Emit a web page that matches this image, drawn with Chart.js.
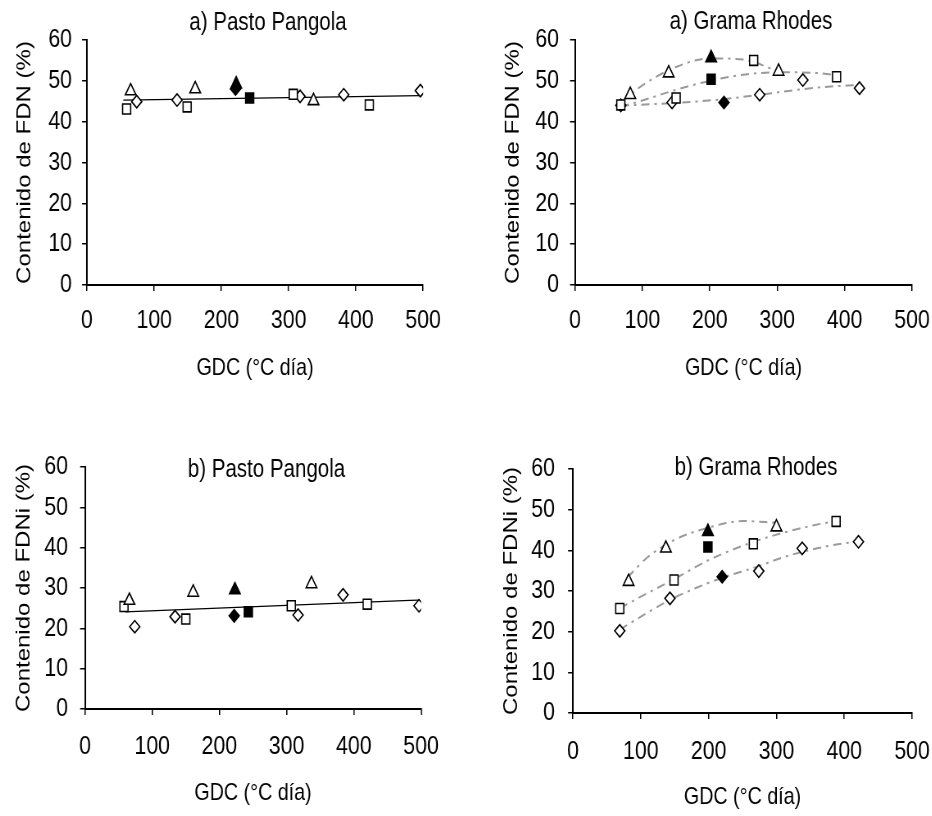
<!DOCTYPE html>
<html>
<head>
<meta charset="utf-8">
<script src="https://cdn.jsdelivr.net/npm/chart.js@4.4.0/dist/chart.umd.min.js"></script>
<style>
    body { margin: 0; background: #fff; width: 932px; height: 816px; position: relative; overflow: hidden; }
    canvas { position: absolute; }
</style>
</head>
<body>
<canvas id="c1"></canvas>
<canvas id="c2"></canvas>
<canvas id="c3"></canvas>
<canvas id="c4"></canvas>
<script>
var gdcTicks = [0, 100, 200, 300, 400, 500];
var contentTicks = [0, 10, 20, 30, 40, 50, 60];

// a) Pasto Pangola - FDN
var pangolaFdnTri = [[65, 47.5], [161, 48.0], [337, 45.1]];
var pangolaFdnSq = [[59, 43.1], [149, 43.6], [307, 46.7], [420, 44.1]];
var pangolaFdnDia = [[74, 44.9], [134, 45.3], [317, 46.2], [382, 46.6], [496, 47.6]];
var pangolaFdnTriFill = [[222, 49.2]];
var pangolaFdnSqFill = [[242, 45.8]];
var pangolaFdnDiaFill = [[221, 48.0]];
var pangolaFdnFit = [[54, 45.3], [496, 46.4]];

// a) Grama Rhodes - FDN
var rhodesFdnTri = [[82, 46.6], [139, 51.9], [302, 52.3]];
var rhodesFdnSq = [[68, 44.1], [150, 45.8], [265, 55.0], [388, 51.0]];
var rhodesFdnDia = [[68, 44.0], [144, 44.7], [274, 46.6], [338, 50.2], [422, 48.2]];
var rhodesFdnTriFill = [[202, 55.6]];
var rhodesFdnSqFill = [[202, 50.4]];
var rhodesFdnDiaFill = [[221, 44.7]];
var rhodesFdnTriFit = [[68, 44.7], [100, 48.9], [150, 53.4], [200, 55.5], [250, 55.2], [300, 52.4]];
var rhodesFdnSqFit = [[68, 43.6], [100, 45.2], [150, 47.8], [200, 50.0], [250, 51.5], [300, 52.1], [350, 52.0], [390, 51.4]];
var rhodesFdnDiaFit = [[68, 43.9], [150, 44.6], [220, 45.5], [270, 46.5], [320, 47.6], [370, 48.5], [422, 49.0]];

// b) Pasto Pangola - FDNi
var pangolaFdniTri = [[66, 26.9], [161, 28.9], [337, 31.0]];
var pangolaFdniSq = [[58, 25.4], [150, 22.3], [307, 25.6], [420, 26.0]];
var pangolaFdniDia = [[74, 20.4], [134, 22.9], [317, 23.3], [384, 28.3], [497, 25.6]];
var pangolaFdniTriFill = [[223, 29.5]];
var pangolaFdniSqFill = [[243, 24.1]];
var pangolaFdniDiaFill = [[222, 23.1]];
var pangolaFdniFit = [[60, 24.1], [497, 27.0]];

// b) Grama Rhodes - FDNi
var rhodesFdniTri = [[82, 32.3], [137, 40.5], [300, 45.7]];
var rhodesFdniSq = [[69, 25.7], [149, 32.7], [266, 41.6], [388, 47.1]];
var rhodesFdniDia = [[69, 20.2], [143, 28.2], [274, 34.9], [338, 40.5], [421, 42.1]];
var rhodesFdniTriFill = [[199, 44.6]];
var rhodesFdniSqFill = [[199, 40.8]];
var rhodesFdniDiaFill = [[220, 33.5]];
var rhodesFdniTriFit = [[80, 33.3], [110, 38.3], [150, 42.6], [200, 45.6], [250, 47.2], [300, 46.8]];
var rhodesFdniSqFit = [[69, 25.8], [100, 28.6], [150, 33.0], [200, 37.6], [265, 42.0], [330, 45.2], [388, 47.3]];
var rhodesFdniDiaFit = [[69, 20.5], [113, 25.0], [143, 27.8], [182, 30.8], [221, 33.3], [272, 36.0], [310, 38.3], [338, 39.6], [374, 41.0], [420, 42.2]];

// the original figure is squeezed sideways, so every canvas is drawn wider and shrunk by css
var squeeze = 0.82;
var face = "'Liberation Sans', Arial, sans-serif";

function pts(a) {
    return a.map(function(p) { return {x: p[0], y: p[1]}; });
}

function marks(a, style, filled) {
    var r = 6.5;
    if (style == 'triangle') r = 7.5;
    if (style == 'rect') r = 7;
    if (style == 'rectRot') r = 6.2;
    return {
        data: pts(a),
        showLine: false,
        pointStyle: style,
        pointRadius: r,
        pointBorderWidth: 1.6,
        pointBorderColor: '#000',
        pointBackgroundColor: filled ? '#000' : '#fff',
        order: 0
    };
}

function fit(a, dashed) {
    return {
        data: pts(a),
        showLine: true,
        pointRadius: 0,
        borderColor: dashed ? '#9a9a9a' : '#000',
        borderWidth: dashed ? 2 : 1.3,
        borderDash: dashed ? [10, 6, 3, 6] : [],
        cubicInterpolationMode: 'monotone',
        fill: false,
        order: 10
    };
}

function fixedTicks(list) {
    return function(scale) {
        scale.ticks = list.map(function(v) { return {value: v}; });
    };
}

function panel(id, p) {
    var cv = document.getElementById(id);
    cv.width = Math.round(p.w / squeeze);
    cv.height = p.h;
    cv.style.width = (cv.width * squeeze) + 'px';
    cv.style.height = p.h + 'px';
    cv.style.left = p.left + 'px';
    cv.style.top = p.top + 'px';
    // page positions turned into canvas positions
    var titleY = p.titleY - p.top;
    var areaTop = p.areaTop - p.top;
    var areaBottom = p.areaBottom - p.top;
    var xLabelY = p.xLabelY - p.top;
    var xTitleY = p.xTitleY - p.top;
    return new Chart(cv, {
        type: 'scatter',
        data: {datasets: p.datasets},
        options: {
            responsive: false,
            animation: false,
            layout: {padding: 0},
            plugins: {
                legend: {display: false},
                tooltip: {enabled: false},
                title: {
                    display: true,
                    text: p.title,
                    color: '#000',
                    font: {family: face, size: 25, weight: 'normal', lineHeight: 1.2},
                    padding: {top: titleY - 15, bottom: areaTop - titleY - 15}
                }
            },
            scales: {
                x: {
                    type: 'linear',
                    min: 0,
                    max: 500,
                    afterBuildTicks: fixedTicks(gdcTicks),
                    afterFit: function(s) { s.height = p.h - areaBottom; },
                    ticks: {color: '#000', font: {family: face, size: 26, lineHeight: 1.2}, padding: xLabelY - areaBottom - 6 - 15.6, maxRotation: 0, autoSkip: false},
                    grid: {display: true, drawOnChartArea: false, drawTicks: true, tickLength: 6, color: '#000', lineWidth: 1.5},
                    border: {display: true, color: '#000', width: 2},
                    title: {display: true, text: 'GDC (°C día)', color: '#000', font: {family: face, size: 24, lineHeight: 1.2}, padding: {top: 0, bottom: p.h - xTitleY - 14.4}}
                },
                y: {
                    type: 'linear',
                    min: 0,
                    max: 60,
                    afterBuildTicks: fixedTicks(contentTicks),
                    afterFit: function(s) { s.width = (p.areaLeft - p.left) / squeeze; },
                    ticks: {color: '#000', font: {family: face, size: 26, lineHeight: 1.2}, padding: p.yLabelGap / squeeze - 6},
                    grid: {display: true, drawOnChartArea: false, drawTicks: true, tickLength: 6, color: '#000', lineWidth: 1.5},
                    border: {display: true, color: '#000', width: 2},
                    title: {display: true, text: p.yTitle, color: '#000', font: {family: face, size: 24, lineHeight: 1.2}, padding: {top: (p.yTitleX - p.left) / squeeze - 14.4, bottom: 0}}
                },
                gap: {
                    position: 'right',
                    display: true,
                    afterFit: function(s) { s.width = (p.left + p.w - p.areaRight) / squeeze; },
                    ticks: {display: false},
                    grid: {display: false},
                    border: {display: false}
                }
            }
        }
    });
}

// areaLeft/areaRight/areaTop/areaBottom: where the plot box sits on the page
panel('c1', {
    left: 0, top: 0, w: 536, h: 400,
    areaLeft: 87, areaRight: 423, areaTop: 40, areaBottom: 285,
    title: 'a) Pasto Pangola', titleY: 23,
    yTitle: 'Contenido de FDN (%)', yTitleX: 25, yLabelGap: 15,
    xLabelY: 321, xTitleY: 368,
    datasets: [
        fit(pangolaFdnFit, false),
        marks(pangolaFdnTri, 'triangle', false),
        marks(pangolaFdnSq, 'rect', false),
        marks(pangolaFdnDia, 'rectRot', false),
        marks(pangolaFdnSqFill, 'rect', true),
        marks(pangolaFdnDiaFill, 'rectRot', true),
        marks(pangolaFdnTriFill, 'triangle', true)
    ]
});

panel('c2', {
    left: 490, top: 0, w: 522, h: 400,
    areaLeft: 575, areaRight: 912, areaTop: 40, areaBottom: 285,
    title: 'a) Grama Rhodes', titleY: 22,
    yTitle: 'Contenido de FDN (%)', yTitleX: 513, yLabelGap: 16,
    xLabelY: 321, xTitleY: 368,
    datasets: [
        fit(rhodesFdnTriFit, true),
        fit(rhodesFdnSqFit, true),
        fit(rhodesFdnDiaFit, true),
        marks(rhodesFdnTri, 'triangle', false),
        marks(rhodesFdnSq, 'rect', false),
        marks(rhodesFdnDia, 'rectRot', false),
        marks(rhodesFdnSqFill, 'rect', true),
        marks(rhodesFdnDiaFill, 'rectRot', true),
        marks(rhodesFdnTriFill, 'triangle', true)
    ]
});

panel('c3', {
    left: 0, top: 408, w: 533, h: 408,
    areaLeft: 85, areaRight: 421, areaTop: 467, areaBottom: 709,
    title: 'b) Pasto Pangola', titleY: 470,
    yTitle: 'Contenido de FDNi (%)', yTitleX: 24, yLabelGap: 17,
    xLabelY: 747, xTitleY: 793,
    datasets: [
        fit(pangolaFdniFit, false),
        marks(pangolaFdniTri, 'triangle', false),
        marks(pangolaFdniSq, 'rect', false),
        marks(pangolaFdniDia, 'rectRot', false),
        marks(pangolaFdniSqFill, 'rect', true),
        marks(pangolaFdniDiaFill, 'rectRot', true),
        marks(pangolaFdniTriFill, 'triangle', true)
    ]
});

panel('c4', {
    left: 490, top: 408, w: 532, h: 408,
    areaLeft: 573, areaRight: 912, areaTop: 469, areaBottom: 713,
    title: 'b) Grama Rhodes', titleY: 468,
    yTitle: 'Contenido de FDNi (%)', yTitleX: 512, yLabelGap: 18,
    xLabelY: 752, xTitleY: 797,
    datasets: [
        fit(rhodesFdniTriFit, true),
        fit(rhodesFdniSqFit, true),
        fit(rhodesFdniDiaFit, true),
        marks(rhodesFdniTri, 'triangle', false),
        marks(rhodesFdniSq, 'rect', false),
        marks(rhodesFdniDia, 'rectRot', false),
        marks(rhodesFdniSqFill, 'rect', true),
        marks(rhodesFdniDiaFill, 'rectRot', true),
        marks(rhodesFdniTriFill, 'triangle', true)
    ]
});
</script>
</body>
</html>
